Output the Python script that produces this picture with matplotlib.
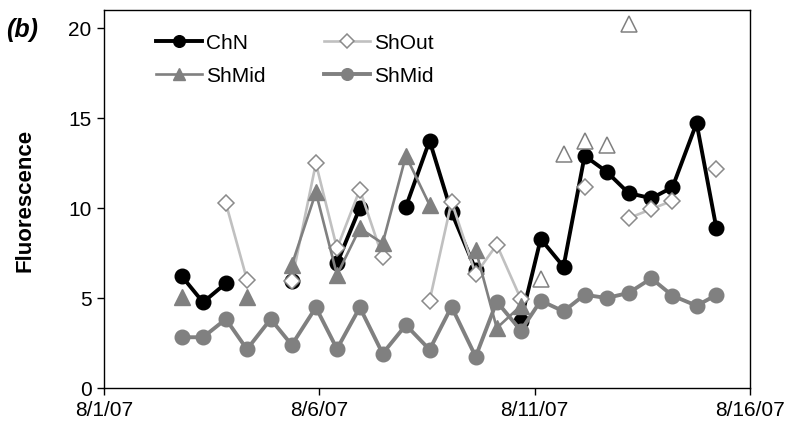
import numpy as np
import pandas as pd
import matplotlib
matplotlib.use("Agg")
import matplotlib.pyplot as plt
import matplotlib.dates as mdates

plt.rcParams['font.family'] = ['Liberation Sans', 'DejaVu Sans']

nan = np.nan

# sampling times, in days after 8/1/07 00:00 (tidal, roughly every 12.4 h)
sample_day = [1.81, 2.30, 2.83, 3.32, 3.87, 4.36, 4.92, 5.41, 5.94, 6.47,
              7.01, 7.56, 8.07, 8.63, 9.12, 9.68, 10.14, 10.67, 11.16, 11.67,
              12.18, 12.71, 13.20, 13.76, 14.22]

chn = [6.2, 4.76, 5.82, nan, nan, 5.96, nan, 6.93, 10.0, nan,
       10.07, 13.74, 9.76, 6.57, nan, 3.74, 8.28, 6.74, 12.9, 12.02,
       10.83, 10.54, 11.15, 14.72, 8.87]

sh_out = [nan, nan, 10.26, 6.02, nan, 5.96, 12.48, 7.76, 11.02, 7.26,
          nan, 4.85, 10.35, 6.33, 7.96, 4.94, nan, nan, 11.15, nan,
          9.43, 9.94, 10.41, nan, 12.17]

sh_mid_tri = [5.04, nan, nan, 5.04, nan, 6.83, 10.87, 6.28, 8.87, 8.04,
              12.9, 10.17, nan, 7.69, 3.33, 4.57, nan, nan, nan, nan,
              nan, nan, nan, nan, nan]

# unconnected open triangles late in the record
sh_mid_open = [nan, nan, nan, nan, nan, nan, nan, nan, nan, nan,
               nan, nan, nan, nan, nan, nan, 6.06, 13.0, 13.74, 13.5,
               20.2, nan, nan, nan, nan]

sh_mid_circ = [2.82, 2.82, 3.83, 2.15, 3.83, 2.39, 4.48, 2.17, 4.48, 1.91,
               3.5, 2.13, 4.52, 1.74, 4.8, 3.19, 4.85, 4.26, 5.18, 5.0,
               5.28, 6.09, 5.13, 4.57, 5.17]

t = pd.Timestamp('2007-08-01') + pd.to_timedelta(sample_day, unit='D')

fig = plt.figure(figsize=(7.92, 4.31), dpi=100)
ax = fig.add_axes([104 / 792, 1 - 389 / 431, 646 / 792, 378 / 431])

h_chn, = ax.plot(t, chn, color='black', lw=2.8, marker='o', ms=10.5,
                 label='ChN', zorder=2)
h_out, = ax.plot(t, sh_out, color='#c0c0c0', lw=1.9, marker='D', ms=8.5,
                 mfc='white', mec='#8a8a8a', mew=1.1, label='ShOut', zorder=3)
h_tri, = ax.plot(t, sh_mid_tri, color='#808080', lw=1.9, marker='^', ms=11.5,
                 label='ShMid', zorder=4)
ax.plot(t, sh_mid_open, ls='none', marker='^', ms=11.5, mfc='white',
        mec='#808080', mew=1.1, zorder=4)
h_circ, = ax.plot(t, sh_mid_circ, color='#808080', lw=2.8, marker='o', ms=10.5,
                  label='ShMid', zorder=5)

ax.set_xlim(pd.Timestamp('2007-08-01'), pd.Timestamp('2007-08-16'))
ax.set_ylim(0, 21)
ax.set_yticks([0, 5, 10, 15, 20])
ax.set_xticks(pd.to_datetime(['2007-08-01', '2007-08-06', '2007-08-11', '2007-08-16']))
ax.xaxis.set_major_formatter(mdates.DateFormatter('%-m/%-d/%y'))

for s in ax.spines.values():
    s.set_linewidth(1.0)
ax.tick_params(direction='out', length=5, width=1, labelsize=15, pad=4)
ax.set_ylabel('Fluorescence', fontsize=16, fontweight='bold')
ax.yaxis.set_label_coords(-0.106, 0.5)

fig.text(6 / 792, 1 - 30 / 431, '(b)', fontsize=18, fontweight='bold',
         fontstyle='italic', va='center', ha='left')

ax.legend([h_chn, h_tri, h_out, h_circ], ['ChN', 'ShMid', 'ShOut', 'ShMid'],
          ncol=2, frameon=False, fontsize=15, loc='upper left',
          bbox_to_anchor=(146 / 792, 1 - 24 / 431), bbox_transform=fig.transFigure,
          handlelength=2.2, handletextpad=0.2, columnspacing=2.8,
          labelspacing=0.65, borderpad=0, markerscale=0.8)

fig.savefig('out.png', dpi=100)
